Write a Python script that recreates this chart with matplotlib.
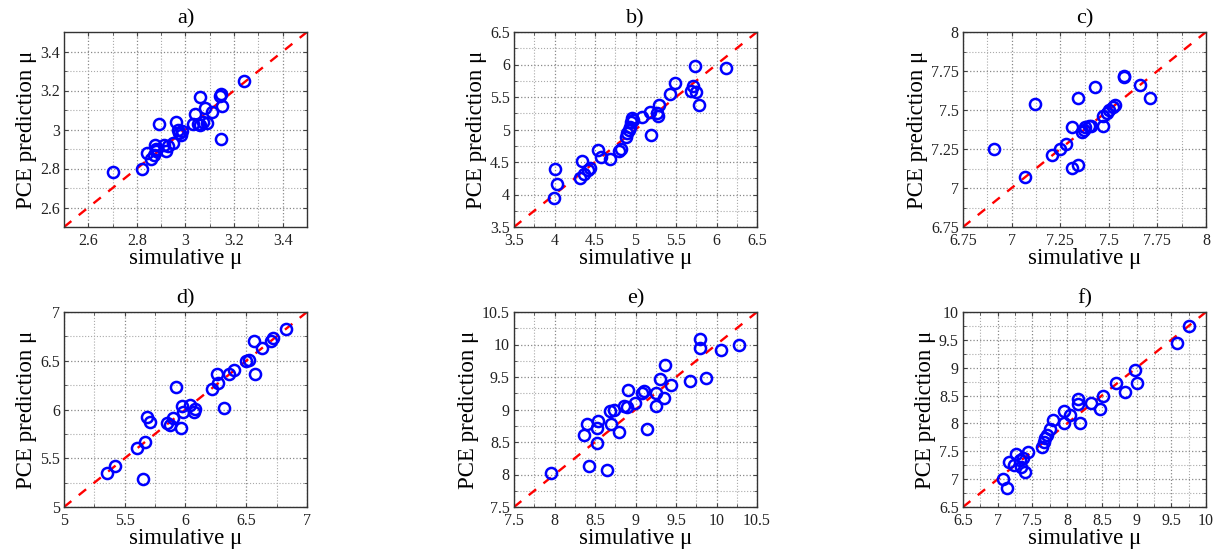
import numpy as np
import matplotlib.pyplot as plt
from matplotlib.ticker import MultipleLocator

plt.rcParams['font.family'] = ['Liberation Serif', 'DejaVu Serif']

# panel a
sim_a = [2.70, 2.82, 2.84, 2.86, 2.87, 2.875, 2.88, 2.88, 2.89, 2.91, 2.92, 2.93,
         2.95, 2.96, 2.97, 2.975, 2.98, 2.985, 3.03, 3.04, 3.05, 3.06, 3.06, 3.07,
         3.08, 3.09, 3.11, 3.14, 3.145, 3.15, 3.145, 3.24]
pce_a = [2.78, 2.80, 2.88, 2.85, 2.87, 2.92, 2.89, 2.90, 3.03, 2.92, 2.89, 2.915,
         2.93, 3.04, 3.00, 2.98, 2.97, 2.99, 3.03, 3.08, 3.03, 3.165, 3.025, 3.04,
         3.11, 3.035, 3.09, 3.17, 3.18, 3.12, 2.95, 3.25]

# panel b
sim_b = [3.99, 4.03, 4.01, 4.31, 4.34, 4.36, 4.41, 4.44, 4.54, 4.57, 4.69, 4.80,
         4.82, 4.88, 4.90, 4.92, 4.93, 4.94, 4.96, 4.97, 5.08, 5.18, 5.19, 5.26,
         5.28, 5.29, 5.43, 5.49, 5.68, 5.71, 5.73, 5.75, 5.78, 6.12]
pce_b = [3.94, 4.16, 4.39, 4.26, 4.51, 4.32, 4.37, 4.41, 4.68, 4.58, 4.55, 4.67,
         4.70, 4.89, 4.94, 4.99, 5.04, 5.11, 5.18, 5.15, 5.20, 5.27, 4.92, 5.25,
         5.21, 5.37, 5.54, 5.71, 5.59, 5.67, 5.97, 5.57, 5.38, 5.95]

# panel c
sim_c = [6.91, 7.07, 7.12, 7.21, 7.25, 7.28, 7.31, 7.31, 7.34, 7.34, 7.36, 7.37,
         7.38, 7.40, 7.41, 7.43, 7.47, 7.47, 7.49, 7.50, 7.52, 7.53, 7.58, 7.58,
         7.66, 7.71]
pce_c = [7.25, 7.07, 7.54, 7.21, 7.25, 7.28, 7.39, 7.13, 7.15, 7.58, 7.36, 7.37,
         7.39, 7.40, 7.40, 7.65, 7.46, 7.40, 7.48, 7.50, 7.52, 7.53, 7.72, 7.71,
         7.66, 7.58]

# panel d
sim_d = [5.35, 5.42, 5.60, 5.67, 5.65, 5.68, 5.71, 5.85, 5.87, 5.90, 5.92, 5.96,
         5.97, 5.98, 6.04, 6.07, 6.08, 6.22, 6.26, 6.27, 6.32, 6.36, 6.40, 6.50,
         6.52, 6.56, 6.57, 6.63, 6.70, 6.72, 6.83]
pce_d = [5.35, 5.42, 5.61, 5.67, 5.29, 5.92, 5.87, 5.86, 5.84, 5.91, 6.23, 5.81,
         6.04, 5.97, 6.05, 5.97, 6.01, 6.21, 6.36, 6.27, 6.02, 6.36, 6.41, 6.50,
         6.51, 6.70, 6.36, 6.63, 6.70, 6.73, 6.83]

# panel e
sim_e = [7.96, 8.36, 8.40, 8.43, 8.52, 8.53, 8.54, 8.65, 8.68, 8.70, 8.74, 8.80,
         8.86, 8.90, 8.91, 8.99, 9.08, 9.11, 9.14, 9.25, 9.25, 9.30, 9.35, 9.37,
         9.44, 9.67, 9.80, 9.80, 9.87, 10.05, 10.28]
pce_e = [8.03, 8.61, 8.77, 8.13, 8.49, 8.72, 8.83, 8.07, 8.97, 8.77, 8.99, 8.65,
         9.05, 9.04, 9.30, 9.10, 9.26, 9.28, 8.70, 9.06, 9.25, 9.47, 9.17, 9.69,
         9.37, 9.44, 10.09, 9.94, 9.49, 9.91, 10.00]

# panel f
sim_f = [7.07, 7.14, 7.16, 7.24, 7.27, 7.32, 7.33, 7.36, 7.39, 7.43, 7.64, 7.66,
         7.68, 7.71, 7.75, 7.79, 7.95, 7.96, 8.04, 8.15, 8.16, 8.18, 8.35, 8.47,
         8.51, 8.70, 8.83, 8.98, 9.00, 9.58, 9.76]
pce_f = [7.00, 6.85, 7.31, 7.25, 7.45, 7.34, 7.22, 7.38, 7.12, 7.49, 7.57, 7.67,
         7.73, 7.79, 7.90, 8.07, 8.00, 8.22, 8.15, 8.44, 8.35, 8.00, 8.36, 8.26,
         8.50, 8.72, 8.57, 8.96, 8.73, 9.45, 9.75]

panels = [
    ('a)', sim_a, pce_a, (2.5, 3.5), 0.2, 0.1),
    ('b)', sim_b, pce_b, (3.5, 6.5), 0.5, 0.25),
    ('c)', sim_c, pce_c, (6.75, 8.0), 0.25, 0.125),
    ('d)', sim_d, pce_d, (5.0, 7.0), 0.5, 0.25),
    ('e)', sim_e, pce_e, (7.5, 10.5), 0.5, 0.25),
    ('f)', sim_f, pce_f, (6.5, 10.0), 0.5, 0.25),
]

W, H = 1223, 554
lefts = [64, 514, 963]
tops = [32, 312]
aw, ah = 243, 195

fig = plt.figure(figsize=(W / 100, H / 100), dpi=100)

for i, (title, sx, py, lim, major, minor) in enumerate(panels):
    l = lefts[i % 3]
    t = tops[i // 3]
    ax = fig.add_axes([l / W, (H - t - ah) / H, aw / W, ah / H])
    ax.set_xlim(lim)
    ax.set_ylim(lim)
    for axis in (ax.xaxis, ax.yaxis):
        axis.set_major_locator(MultipleLocator(major))
        axis.set_minor_locator(MultipleLocator(minor))
    ax.grid(which='major', ls=':', color='#888888', lw=0.9)
    ax.grid(which='minor', ls=':', color='#aaaaaa', lw=0.8)
    ax.set_axisbelow(True)
    ax.plot(lim, lim, color='red', ls=(0, (4, 4)), lw=1.7, zorder=2)
    ax.plot(sx, py, 'o', mfc='none', mec='blue', ms=8, mew=1.8, zorder=3)
    ax.tick_params(which='both', direction='in', top=True, right=True,
                   labelsize=11.5, color='#444444', labelcolor='#222222')
    ax.tick_params(axis='x', pad=4.5)
    ax.tick_params(axis='y', pad=3)
    ax.tick_params(which='major', length=3)
    ax.tick_params(which='minor', length=2)
    ax.xaxis.set_major_formatter(plt.FuncFormatter(lambda v, p: f'{v:g}'))
    ax.yaxis.set_major_formatter(plt.FuncFormatter(lambda v, p: f'{v:g}'))
    for s in ax.spines.values():
        s.set_color('#333333')
        s.set_linewidth(1.0)
    ax.set_title(title, fontsize=16, pad=6)
    ax.set_xlabel('simulative μ', fontsize=16.5, labelpad=-1)
    ax.set_ylabel('PCE prediction μ', fontsize=16.5, labelpad=2)

fig.savefig('out.png', dpi=100)
